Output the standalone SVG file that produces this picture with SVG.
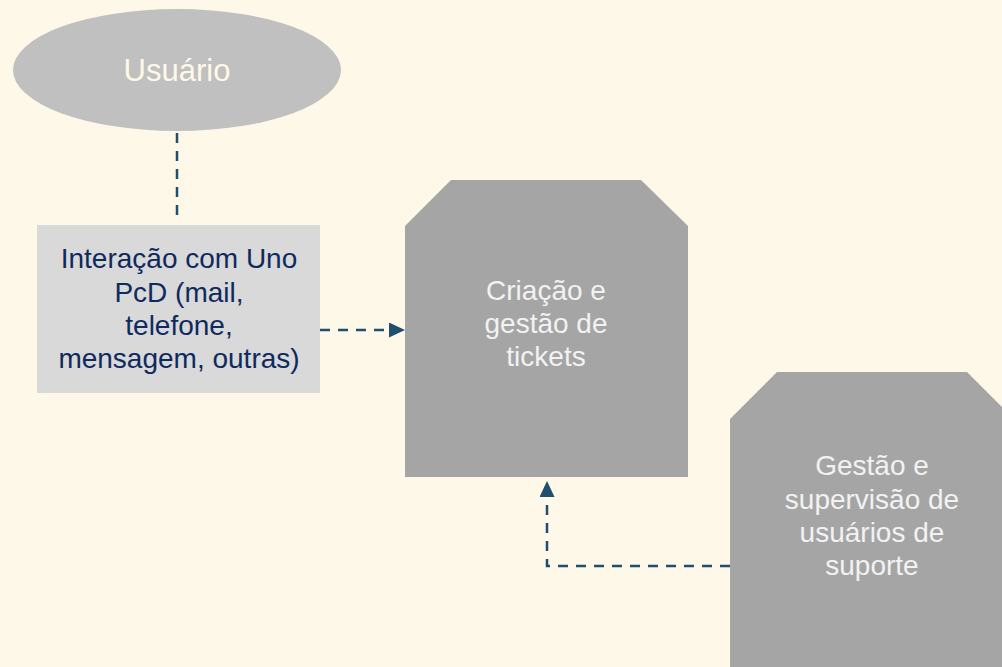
<svg xmlns="http://www.w3.org/2000/svg" width="1002" height="667" viewBox="0 0 1002 667">
  <style>
    text { font-family: "Liberation Sans", Arial, sans-serif; font-size: 28px; text-anchor: middle; }
    .conn { fill: none; stroke: #1F4E6E; stroke-width: 2.5; stroke-dasharray: 10 8; }
    .oct { fill: #A5A5A5; }
    .octtxt { fill: #F2F2F2; }
    .boxtxt { fill: #0E2A5E; }
  </style>
  <defs>
    <marker id="arrow" viewBox="0 0 16 15" refX="0" refY="7.5" markerWidth="16" markerHeight="15" markerUnits="userSpaceOnUse" orient="auto">
      <path d="M0,0 L16,7.5 L0,15 z" fill="#1F4E6E"/>
    </marker>
  </defs>
  <rect x="0" y="0" width="1002" height="667" fill="#FEF8E8"/>

  <g id="connectors">
    <path class="conn" d="M177,133 V218"/>
    <path class="conn" d="M320,330 H389" marker-end="url(#arrow)"/>
    <path class="conn" d="M730,566 H547 V497" marker-end="url(#arrow)"/>
  </g>

  <g id="usuario">
    <ellipse cx="177" cy="70" rx="164" ry="61" fill="#C0C0C0"/>
    <text x="177" y="81" style="font-size:31px" fill="#FEF8E8">Usuário</text>
  </g>

  <g id="interacao">
    <rect x="37" y="225" width="283" height="168" fill="#D9D9D9"/>
    <text class="boxtxt" x="179" y="268">Interação com Uno</text>
    <text class="boxtxt" x="179" y="302">PcD (mail,</text>
    <text class="boxtxt" x="179" y="335">telefone,</text>
    <text class="boxtxt" x="179" y="368">mensagem, outras)</text>
  </g>

  <g id="criacao">
    <polygon class="oct" points="451,180 641,180 688,226 688,477 405,477 405,226"/>
    <text class="octtxt" x="546" y="300">Criação e</text>
    <text class="octtxt" x="546" y="333">gestão de</text>
    <text class="octtxt" x="546" y="366">tickets</text>
  </g>

  <g id="gestao">
    <polygon class="oct" points="777,372 967,372 1014,419 1014,669 730,669 730,419"/>
    <text class="octtxt" x="872" y="475">Gestão e</text>
    <text class="octtxt" x="872" y="509">supervisão de</text>
    <text class="octtxt" x="872" y="542">usuários de</text>
    <text class="octtxt" x="872" y="575">suporte</text>
  </g>
</svg>
